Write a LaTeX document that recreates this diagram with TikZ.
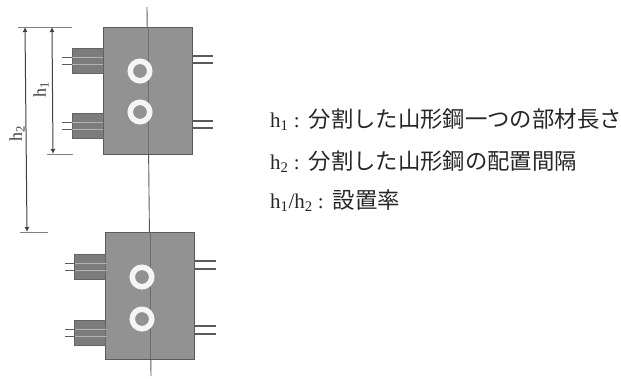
\documentclass[tikz,border=0pt]{standalone}
\usepackage{fontspec}
\setmainfont{Liberation Serif}
\newfontfamily\cjk[Scale=1.065]{Noto Sans CJK JP}
\usepackage{xcolor}
\usetikzlibrary{arrows.meta, positioning}
\definecolor{plategray}{HTML}{929292}
\definecolor{anglegray}{HTML}{7C7C7C}
\definecolor{linegray}{HTML}{5A5A5A}

\begin{document}
\begin{tikzpicture}[x=1pt, y=-1pt,
                    plate/.style={rectangle, draw=linegray, fill=plategray, minimum width=89pt, minimum height=127pt, line width=0.8pt, outer sep=0pt},
                    angleblock/.style={rectangle, draw=anglegray!80!black, fill=anglegray, minimum width=31pt, minimum height=25pt, line width=0.6pt, outer sep=0pt},
                    ring/.style={circle, draw=white!92!gray, fill=plategray, line width=5.5pt, minimum size=19.5pt, inner sep=0pt},
                    stub/.style={draw=linegray, line width=1.6pt},
                    stripe/.style={draw=plategray!70!white, line width=0.7pt},
                    axis/.style={draw=linegray, line width=0.9pt},
                    extline/.style={draw=gray, line width=0.8pt},
                    dimline/.style={draw=black!75, line width=1pt, {Latex[length=5pt,width=5pt]}-{Latex[length=5pt,width=5pt]}},
                    dimlabel/.style={rotate=90, font=\fontsize{18}{18}\selectfont, text=black!75},
                    legend/.style={anchor=base west, font=\fontsize{21}{22}\selectfont, text=black!85, inner sep=0pt}]
\useasboundingbox (0,0) rectangle (621,378);

% Centre line, behind the plates
\coordinate (axistop) at (147,7);
\coordinate (axisbottom) at (151,376);
\draw[axis] (axistop) -- (axisbottom);

% Place the plates
\node[plate] (plateA) at (147.5,90.5) {};
\node[plate] (plateB) at (150,295.5) {};
\draw[draw=plategray!75!black, line width=0.7pt] (148,27) -- (148,154);
\draw[draw=plategray!75!black, line width=0.7pt] (150,232) -- (150,359);

% Angles on the left of each plate
\node[angleblock, left=0pt of plateA.west, yshift=29.5pt] (angleA) {};
\node[angleblock, left=0pt of plateA.west, yshift=-35.5pt] (angleB) {};
\node[angleblock, left=0pt of plateB.west, yshift=28.5pt] (angleC) {};
\node[angleblock, left=0pt of plateB.west, yshift=-37.5pt] (angleD) {};

% Stripes on the angles
\draw[stripe] ([yshift=-3.5pt]angleA.west) -- ([yshift=-3.5pt]angleA.east);
\draw[stripe] ([yshift=3.5pt]angleA.west) -- ([yshift=3.5pt]angleA.east);
\draw[stripe] ([yshift=-3.5pt]angleB.west) -- ([yshift=-3.5pt]angleB.east);
\draw[stripe] ([yshift=3.5pt]angleB.west) -- ([yshift=3.5pt]angleB.east);
\draw[stripe] ([yshift=-3.5pt]angleC.west) -- ([yshift=-3.5pt]angleC.east);
\draw[stripe] ([yshift=3.5pt]angleC.west) -- ([yshift=3.5pt]angleC.east);
\draw[stripe] ([yshift=-3.5pt]angleD.west) -- ([yshift=-3.5pt]angleD.east);
\draw[stripe] ([yshift=3.5pt]angleD.west) -- ([yshift=3.5pt]angleD.east);

% Stubs of the angles
\draw[stub] ([yshift=-3.5pt]angleA.west) -- ++(-10,0);
\draw[stub] ([yshift=3.5pt]angleA.west) -- ++(-10,0);
\draw[stub] ([yshift=-3.5pt]angleB.west) -- ++(-10,0);
\draw[stub] ([yshift=3.5pt]angleB.west) -- ++(-10,0);
\draw[stub] ([yshift=-3.5pt]angleC.west) -- ++(-10,0);
\draw[stub] ([yshift=3.5pt]angleC.west) -- ++(-10,0);
\draw[stub] ([yshift=-3.5pt]angleD.west) -- ++(-10,0);
\draw[stub] ([yshift=3.5pt]angleD.west) -- ++(-10,0);

% Stubs on the right of each plate
\draw[stub] ([yshift=34.5pt]plateA.east) -- ++(21,0);
\draw[stub] ([yshift=27.5pt]plateA.east) -- ++(21,0);
\draw[stub] ([yshift=-30.5pt]plateA.east) -- ++(21,0);
\draw[stub] ([yshift=-37.5pt]plateA.east) -- ++(21,0);
\draw[stub] ([yshift=34.5pt]plateB.east) -- ++(21,0);
\draw[stub] ([yshift=26.5pt]plateB.east) -- ++(21,0);
\draw[stub] ([yshift=-30.5pt]plateB.east) -- ++(21,0);
\draw[stub] ([yshift=-38.5pt]plateB.east) -- ++(21,0);

% Bolts
\node[ring] (boltA) at (140,71) {};
\node[ring] (boltB) at (140,112) {};
\node[ring] (boltC) at (142,277) {};
\node[ring] (boltD) at (142,319) {};

% Dimensions
\coordinate (hA) at (25,27);
\coordinate (hB) at (27,232);
\coordinate (hC) at (52,27);
\coordinate (hD) at (53,154);
\draw[extline] (18,27) -- (72,27);
\draw[extline] (47,154) -- (73,154);
\draw[extline] (20,232) -- (48,232);
\draw[dimline] (hA) -- (hB);
\draw[dimline] (hC) -- (hD);
\node[dimlabel] (labelA) at (17,134) {h\textsubscript{2}};
\node[dimlabel] (labelB) at (41,90) {h\textsubscript{1}};

% Legend
\node[legend] (legendA) at (270,127) {h\textsubscript{1} :\hspace{9pt}{\cjk 分割した山形鋼一つの部材長さ}};
\node[legend] (legendB) at (270,169) {h\textsubscript{2} :\hspace{9pt}{\cjk 分割した山形鋼の配置間隔}};
\node[legend] (legendC) at (270,208) {h\textsubscript{1}/h\textsubscript{2} :\hspace{9pt}{\cjk 設置率}};

\end{tikzpicture}
\end{document}
